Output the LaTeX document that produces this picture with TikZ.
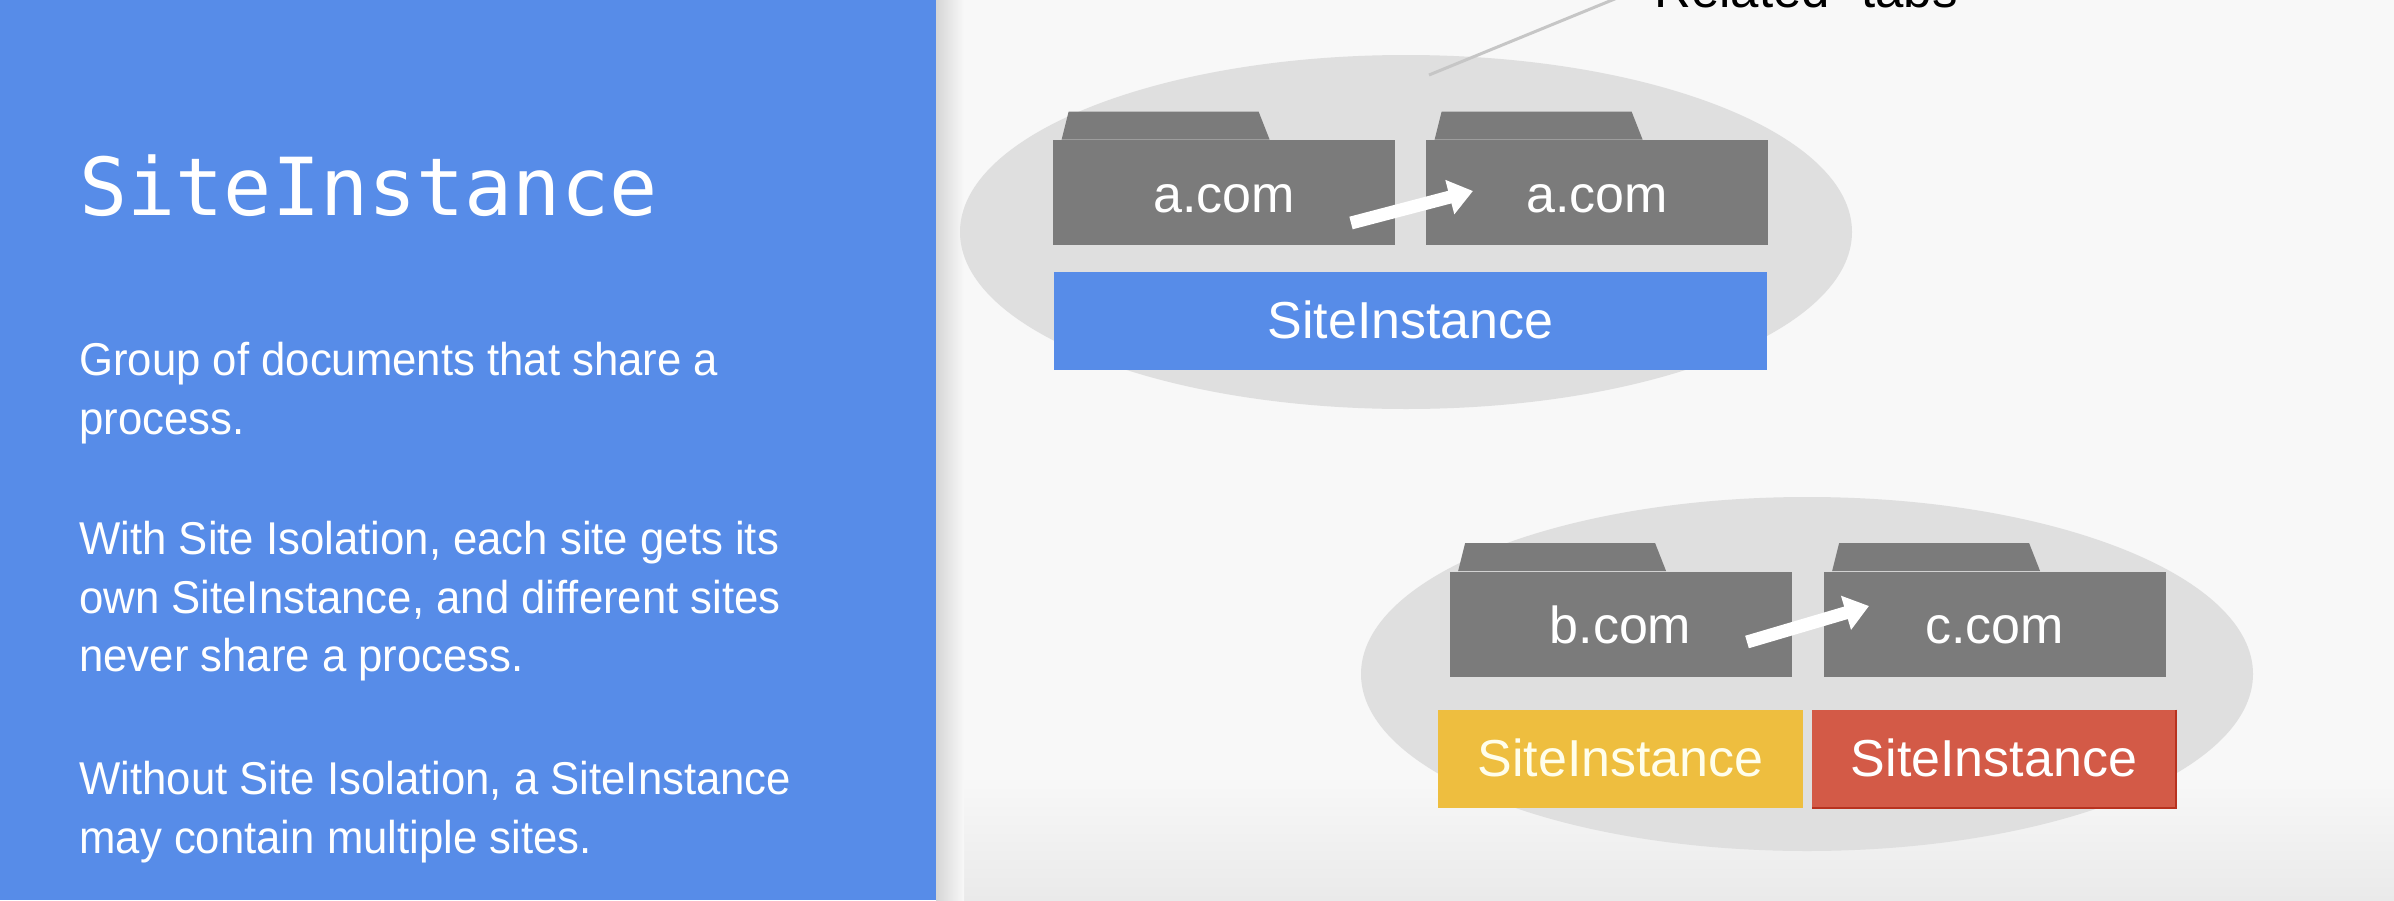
\documentclass[tikz,border=0pt]{standalone}
\usepackage{fontspec}
\setmainfont{Liberation Sans}
\newfontfamily\bodyfont[FakeStretch=0.95]{Liberation Sans}
\newfontfamily\titlefont{DejaVu Sans Mono}
\usetikzlibrary{arrows.meta,calc,shapes.geometric}

\definecolor{panelblue}{HTML}{578CE8}
\definecolor{pagebg}{HTML}{F8F8F8}
\definecolor{pagebot}{HTML}{EAEAEA}
\definecolor{blobgray}{HTML}{DFDFDF}
\definecolor{foldergray}{HTML}{7B7B7B}
\definecolor{leadgray}{HTML}{C6C6C6}
\definecolor{siyellow}{HTML}{EEBE3F}
\definecolor{sired}{HTML}{D35A47}
\definecolor{siredge}{HTML}{B8321F}
\definecolor{shadowgray}{HTML}{D6D6D6}

\begin{document}
% one unit = one pixel of a 2394 x 900 slide, y growing downwards
\begin{tikzpicture}[x=0.5pt,y=-0.5pt,
  blob/.style={ellipse, fill=blobgray, inner sep=0pt, minimum width=446pt, minimum height=177pt},
  folder/.style={rectangle, fill=foldergray, inner sep=0pt, minimum width=171pt, minimum height=52.5pt,
    text height=19.5pt, text depth=0pt, text=white, font=\fontsize{26}{30}\selectfont},
  sibar/.style={rectangle, inner sep=0pt, minimum height=49pt, text height=17pt, text depth=0pt,
    text=white, font=\fontsize{26}{30}\selectfont},
  bodyline/.style={anchor=base west, inner sep=0pt, text=white, font=\bodyfont\fontsize{23}{29.5}\selectfont},
  navarrow/.style={draw=white, line width=6.5pt, -{Triangle[length=12pt,width=17pt]}},
  leader/.style={draw=leadgray, line width=1.5pt}
]
\useasboundingbox (0,0) rectangle (2394,900);
\clip (0,0) rectangle (2394,900);

% page background, with a faint darker band along the bottom
\fill[pagebg] (0,0) rectangle (2394,900);
\shade[top color=pagebg, bottom color=pagebot] (936,775) rectangle (2394,900);

% left panel and its shadow
\fill[panelblue] (0,0) rectangle (936,900);
\shade[left color=shadowgray, right color=pagebg] (936,0) rectangle (964,900);

% panel texts
\node[anchor=base west, inner sep=0pt, text=white, font=\titlefont\fontsize{40}{48}\selectfont] (title) at (79,215) {SiteInstance};
\node[bodyline] (p1a) at (79,375) {Group of documents that share a};
\node[bodyline] (p1b) at (79,434) {process.};
\node[bodyline] (p2a) at (79,554) {With Site Isolation, each site gets its};
\node[bodyline] (p2b) at (79,613) {own SiteInstance, and different sites};
\node[bodyline] (p2c) at (79,671) {never share a process.};
\node[bodyline] (p3a) at (79,794) {Without Site Isolation, a SiteInstance};
\node[bodyline] (p3b) at (79,853) {may contain multiple sites.};

% ---- related tabs: one SiteInstance ----
\node[blob] (grp1) at (1406,232) {};
\node[anchor=base west, inner sep=0pt, text=black, font=\fontsize{25.5}{30}\selectfont] (reltabs) at (1637,7) {“Related” tabs};
\coordinate (leadin) at (1429,75);
\coordinate (leadout) at (1622,-4);
\draw[leader] (leadin) -- (leadout);

\node[folder] (fa1) at (1224,192.5) {a.com};
\node[folder] (fa2) at (1597,192.5) {a.com};
\foreach \f in {fa1,fa2}
  \fill[foldergray] ($(\f.north west)+(9,0)$) -- ++(7,-28) -- ++(190,0) -- ++(11,28) -- cycle;
\coordinate (nav1s) at (1351,223);
\coordinate (nav1e) at (1473,191);
\draw[navarrow] (nav1s) -- (nav1e);

\node[sibar, fill=panelblue, minimum width=356.5pt] (si1) at (1410.5,321) {SiteInstance};

% ---- cross-site tabs: two SiteInstances ----
\node[blob] (grp2) at (1807,674) {};
\node[folder] (fb) at (1620.5,624) {b.com};
\node[folder] (fc) at (1994.5,624) {c.com};
\foreach \f in {fb,fc}
  \fill[foldergray] ($(\f.north west)+(9,0)$) -- ++(7,-28) -- ++(190,0) -- ++(11,28) -- cycle;
\coordinate (nav2s) at (1747,642);
\coordinate (nav2e) at (1869,606);
\draw[navarrow] (nav2s) -- (nav2e);

\node[sibar, fill=siyellow, minimum width=182.5pt, text=white!92!yellow] (si2) at (1620.5,759) {SiteInstance};
\node[sibar, fill=sired, minimum width=182pt] (si3) at (1994,759) {SiteInstance};
\draw[siredge, line width=1pt] (si3.north east) -- (si3.south east) -- (si3.south west);
\end{tikzpicture}
\end{document}
